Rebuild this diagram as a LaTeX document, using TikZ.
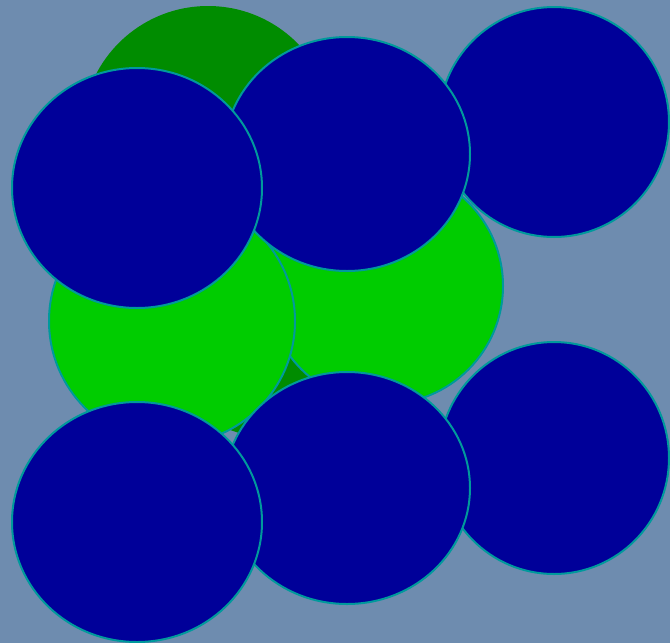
\documentclass[tikz,border=0pt]{standalone}
\begin{document}
\begin{tikzpicture}[x=1pt,y=-1pt,
  rimball/.style={draw=rim,line width=2pt},
  blueball/.style={rimball,fill=ballblue},
  greenball/.style={rimball,fill=ballgreen},
  darkball/.style={fill=balldark}]
\definecolor{bg}{HTML}{6E8CAF}
\definecolor{rim}{HTML}{00999C}
\definecolor{ballblue}{HTML}{000099}
\definecolor{ballgreen}{HTML}{00CC00}
\definecolor{balldark}{HTML}{008C00}
\fill[bg] (0,0) rectangle (670,643);
\useasboundingbox (0,0) rectangle (670,643);
\clip (0,0) rectangle (670,643);
% back layer
\fill[darkball] (208,132) circle (126);
\fill[darkball] (262,350) circle (86);
% middle layer
\draw[greenball] (385,286) circle (118);
\draw[greenball] (172,321) circle (123);
% top row
\draw[blueball] (554,122) ellipse (115 and 115);
\draw[blueball] (347,154) ellipse (123 and 117);
\draw[blueball] (137,188) ellipse (125 and 120);
% bottom row
\draw[blueball] (554,458) ellipse (115 and 116);
\draw[blueball] (347,488) ellipse (123 and 116);
\draw[blueball] (137,522) ellipse (125 and 120);
\end{tikzpicture}
\end{document}
